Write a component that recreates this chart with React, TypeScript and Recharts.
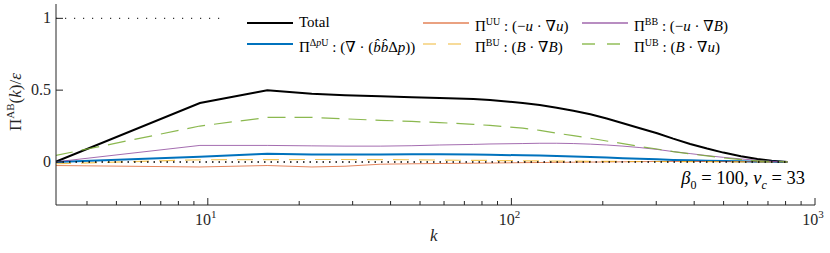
import React from "react";
import { LineChart, Line, XAxis, YAxis, ReferenceLine } from "recharts";

// wavenumbers (log axis) and the six flux curves
const kVals = [3.14, 9.42, 15.7, 22, 28.3, 37, 47, 58, 75, 85, 109, 124, 141, 160, 182, 206, 233, 265, 302, 341, 388, 441, 499, 570, 646, 720, 811];
const total = [0, 0.41, 0.5, 0.475, 0.464, 0.457, 0.451, 0.445, 0.438, 0.431, 0.411, 0.396, 0.378, 0.357, 0.332, 0.302, 0.27, 0.235, 0.2, 0.162, 0.125, 0.093, 0.065, 0.04, 0.021, 0.008, 0];
const piDpU = [0, 0.036, 0.057, 0.052, 0.051, 0.052, 0.053, 0.053, 0.051, 0.05, 0.046, 0.044, 0.041, 0.038, 0.034, 0.03, 0.026, 0.022, 0.018, 0.014, 0.011, 0.008, 0.006, 0.004, 0.002, 0.001, 0];
const piUU = [-0.025, -0.035, -0.025, -0.035, -0.03, -0.016, -0.013, -0.011, -0.009, -0.008, -0.005, -0.004, -0.003, -0.002, -0.001, 0, 0.001, 0.002, 0.003, 0.003, 0.003, 0.003, 0.002, 0.002, 0.001, 0.001, 0];
const piBU = [-0.013, 0.015, 0.016, 0.017, 0.017, 0.016, 0.015, 0.013, 0.011, 0.01, 0.008, 0.007, 0.006, 0.005, 0.004, 0.004, 0.003, 0.003, 0.003, 0.002, 0.002, 0.002, 0.001, 0.001, 0.001, 0, 0];
const piBB = [0, 0.115, 0.115, 0.112, 0.11, 0.11, 0.113, 0.118, 0.122, 0.125, 0.128, 0.13, 0.13, 0.128, 0.124, 0.118, 0.11, 0.1, 0.087, 0.072, 0.058, 0.044, 0.032, 0.021, 0.011, 0.004, 0];
const piUB = [0.044, 0.25, 0.31, 0.31, 0.3, 0.29, 0.282, 0.274, 0.262, 0.254, 0.235, 0.22, 0.2, 0.183, 0.165, 0.146, 0.127, 0.107, 0.09, 0.072, 0.056, 0.042, 0.028, 0.016, 0.008, 0.003, 0];

const xTicks = [4, 5, 6, 7, 8, 9, 10, 20, 30, 40, 50, 60, 70, 80, 90, 100, 200, 300, 400, 500, 600, 700, 800, 900, 1000];
const xMajor = [10, 100, 1000];
const yTicks = [0, 0.5, 1];

const data = kVals.map((k, i) => ({
  k,
  total: total[i],
  dpu: piDpU[i],
  uu: piUU[i],
  bu: piBU[i],
  bb: piBB[i],
  ub: piUB[i],
}));

const AX = "#262626";
const FONT = "'Times New Roman', 'Liberation Serif', Times, 'DejaVu Serif', serif";
const C_TOTAL = "#000000";
const C_DPU = "#0072BD";
const C_UU = "#D95319";
const C_BU = "#EDB120";
const C_BB = "#7E2F8E";
const C_UB = "#77AC30";

const XTickBottom = (props: any) => {
  const { x, y, payload } = props;
  const v = payload.value;
  const major = xMajor.includes(v);
  return (
    <g>
      <line x1={x} x2={x} y1={y} y2={y - (major ? 7 : 4)} stroke={AX} strokeWidth={1} />
      {major && (
        <text x={x - 2} y={y + 20} textAnchor="middle" fontSize={16} fontFamily={FONT} fill={AX}>
          10
          <tspan dy={-7} fontSize={11}>{Math.round(Math.log10(v))}</tspan>
        </text>
      )}
    </g>
  );
};

const XTickTop = (props: any) => {
  const { x, y, payload } = props;
  const major = xMajor.includes(payload.value);
  return <line x1={x} x2={x} y1={y} y2={y + (major ? 7 : 4)} stroke={AX} strokeWidth={1} />;
};

const YTickLeft = (props: any) => {
  const { x, y, payload } = props;
  return (
    <g>
      <line x1={x} x2={x + 7} y1={y} y2={y} stroke={AX} strokeWidth={1} />
      <text x={x - 5} y={y + 5} textAnchor="end" fontSize={16} fontFamily={FONT} fill={AX}>
        {payload.value}
      </text>
    </g>
  );
};

const YTickRight = (props: any) => {
  const { x, y } = props;
  return <line x1={x} x2={x - 7} y1={y} y2={y} stroke={AX} strokeWidth={1} />;
};

const LegendSample = ({ color, dash, width, opacity }: any) => (
  <svg width={48} height={6} style={{ position: "absolute", left: 0, top: -3 }}>
    <line x1={0} x2={46} y1={3} y2={3} stroke={color} strokeWidth={width} strokeDasharray={dash} strokeOpacity={opacity} />
  </svg>
);

const SUP = { fontSize: 10 };

const legendItems = [
  { left: 247, top: 23, color: C_TOTAL, width: 2, label: <>Total</> },
  {
    left: 247, top: 44, color: C_DPU, width: 2,
    label: <>Π<sup style={SUP}>Δ<i>p</i>U</sup> : (∇ · (<i>b̂b̂</i>Δ<i>p</i>))</>,
  },
  {
    left: 423, top: 23, color: C_UU, width: 2, opacity: 0.55,
    label: <>Π<sup style={SUP}>UU</sup> : (−<i>u</i> · ∇<i>u</i>)</>,
  },
  {
    left: 423, top: 44, color: C_BU, width: 1.5, dash: "13 12", opacity: 0.6,
    label: <>Π<sup style={SUP}>BU</sup> : (<i>B</i> · ∇<i>B</i>)</>,
  },
  {
    left: 582, top: 23, color: C_BB, width: 2, opacity: 0.55,
    label: <>Π<sup style={SUP}>BB</sup> : (−<i>u</i> · ∇<i>B</i>)</>,
  },
  {
    left: 582, top: 44, color: C_UB, width: 1.5, dash: "13 12", opacity: 0.8,
    label: <>Π<sup style={SUP}>UB</sup> : (<i>B</i> · ∇<i>u</i>)</>,
  },
];

export default function App() {
  return (
    <div style={{ position: "absolute", left: 0, top: 0, width: 830, height: 253, background: "#fff", fontFamily: FONT }}>
      <LineChart width={830} height={253} data={data} margin={{ top: 4, right: 15, bottom: 0, left: 0 }}>
        <XAxis
          dataKey="k"
          type="number"
          scale="log"
          domain={[3.1623, 1000]}
          allowDataOverflow
          ticks={xTicks}
          interval={0}
          height={48}
          tickSize={0}
          tickMargin={0}
          tick={<XTickBottom />}
          axisLine={{ stroke: AX, strokeWidth: 1 }}
        />
        <XAxis
          xAxisId="top"
          orientation="top"
          dataKey="k"
          type="number"
          scale="log"
          domain={[3.1623, 1000]}
          allowDataOverflow
          ticks={xTicks}
          interval={0}
          height={0}
          tickSize={0}
          tickMargin={0}
          tick={<XTickTop />}
          axisLine={{ stroke: AX, strokeWidth: 1 }}
        />
        <YAxis
          type="number"
          domain={[-0.3, 1.1]}
          allowDataOverflow
          ticks={yTicks}
          interval={0}
          width={56}
          tickSize={0}
          tickMargin={0}
          tick={<YTickLeft />}
          axisLine={{ stroke: AX, strokeWidth: 1 }}
        />
        <YAxis
          yAxisId="right"
          orientation="right"
          type="number"
          domain={[-0.3, 1.1]}
          allowDataOverflow
          ticks={yTicks}
          interval={0}
          width={0}
          tickSize={0}
          tickMargin={0}
          tick={<YTickRight />}
          axisLine={{ stroke: AX, strokeWidth: 1 }}
        />
        <Line dataKey="total" stroke={C_TOTAL} strokeWidth={2} dot={false} isAnimationActive={false} />
        <Line dataKey="dpu" stroke={C_DPU} strokeWidth={2} dot={false} isAnimationActive={false} />
        <Line dataKey="uu" stroke={C_UU} strokeOpacity={0.7} strokeWidth={1} dot={false} isAnimationActive={false} />
        <Line dataKey="bu" stroke={C_BU} strokeOpacity={0.75} strokeWidth={1.2} strokeDasharray="16 10" dot={false} isAnimationActive={false} />
        <Line dataKey="bb" stroke={C_BB} strokeOpacity={0.7} strokeWidth={1} dot={false} isAnimationActive={false} />
        <Line dataKey="ub" stroke={C_UB} strokeOpacity={0.85} strokeWidth={1.2} strokeDasharray="18 9" dot={false} isAnimationActive={false} />
        <ReferenceLine
          segment={[{ x: 3.1623, y: 1 }, { x: 11.4, y: 1 }]}
          stroke="#333"
          strokeWidth={1.2}
          strokeDasharray="1.2 7.8"
        />
        <ReferenceLine
          segment={[{ x: 3.1623, y: 0 }, { x: 811, y: 0 }]}
          stroke="#000"
          strokeWidth={1.5}
          strokeDasharray="1.5 5"
        />
      </LineChart>

      {legendItems.map((it, i) => (
        <div key={i} style={{ position: "absolute", left: it.left, top: it.top, height: 0 }}>
          <LegendSample color={it.color} dash={it.dash} width={it.width} opacity={it.opacity ?? 1} />
          <div
            style={{
              position: "absolute",
              left: 52,
              top: -10,
              fontSize: 15,
              lineHeight: "18px",
              whiteSpace: "nowrap",
              color: "#000",
            }}
          >
            {it.label}
          </div>
        </div>
      ))}

      <div style={{ position: "absolute", right: 25, top: 168, fontSize: 18.5, whiteSpace: "nowrap", color: "#000" }}>
        <i>β</i><sub style={{ fontSize: 12 }}>0</sub> = 100, <i>ν</i><sub style={{ fontSize: 12 }}><i>c</i></sub> = 33
      </div>

      <div style={{ position: "absolute", left: 430, top: 226, fontSize: 17, fontStyle: "italic", color: AX }}>k</div>

      <div
        style={{
          position: "absolute",
          left: 15,
          top: 102,
          fontSize: 17,
          whiteSpace: "nowrap",
          color: AX,
          transform: "translate(-50%, -50%) rotate(-90deg)",
        }}
      >
        Π<sup style={{ fontSize: 11 }}>AB</sup>(<i>k</i>)/<i>ε</i>
      </div>
    </div>
  );
}
